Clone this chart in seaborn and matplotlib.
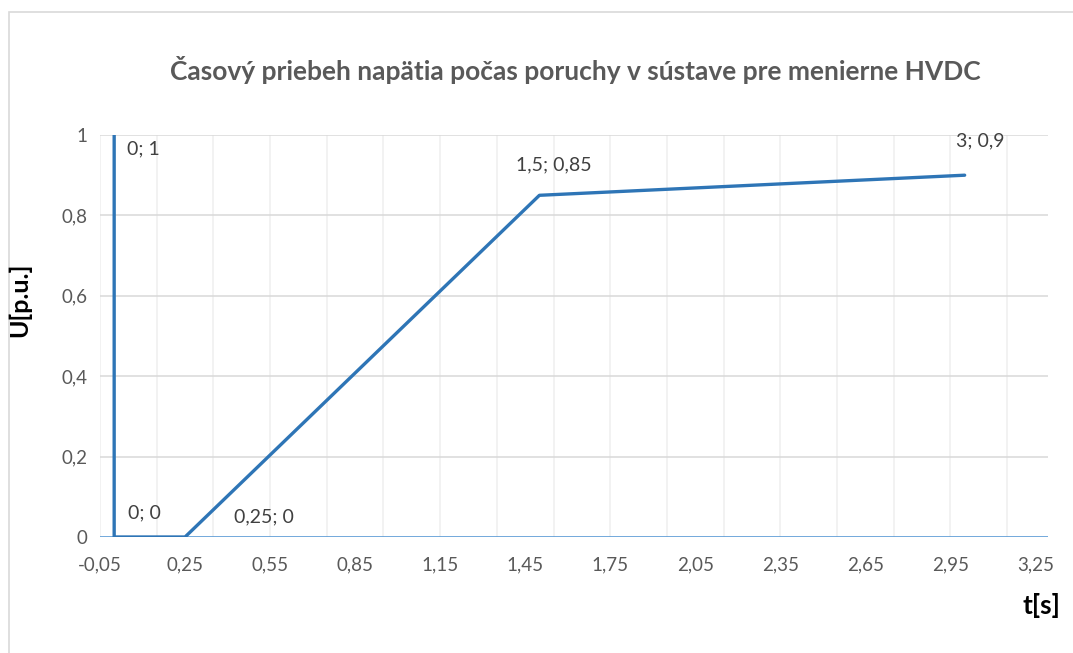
import matplotlib
matplotlib.use('Agg')
import matplotlib.pyplot as plt
import matplotlib.patches as mpatches
from matplotlib.ticker import FixedLocator, FuncFormatter
import numpy as np
import pandas as pd
import seaborn as sns

# data
t_values = [0, 0, 0.25, 1.5, 3]
u_values = [1, 0, 0, 0.85, 0.9]
x_ticks = [-0.05, 0.25, 0.55, 0.85, 1.15, 1.45, 1.75, 2.05, 2.35, 2.65, 2.95, 3.25]
y_ticks = [0, 0.2, 0.4, 0.6, 0.8, 1]
title = 'Časový priebeh napätia počas poruchy v sústave pre menierne HVDC'
x_label = 't[s]'
y_label = 'U[p.u.]'

# label offsets (pixels) for each point, as Excel placed them
label_offsets = [(13, -14), (14, 24), (49, 20), (14, 30), (16, 34)]
label_align = ['left', 'left', 'left', 'center', 'center']

sns.set_theme(style='white')
plt.rcParams['font.family'] = ['Lato', 'DejaVu Sans']

df = pd.DataFrame({'t': t_values, 'u': u_values})

fig = plt.figure(figsize=(10.73, 6.53), dpi=100)
ax = fig.add_axes([100 / 1073, 1 - 537 / 653, 948 / 1073, 402 / 653])

# chart border (Excel chart area)
fig.patches.append(
    mpatches.Rectangle(
        (9 / 1073, -0.1), 1.2, 1 - 12 / 653 + 0.1,
        transform=fig.transFigure, fill=False, edgecolor='#d9d9d9', linewidth=1.2
    )
)

# gridlines
for gx in np.arange(-0.05, 3.3, 0.2):
    ax.axvline(gx, color='#efefef', linewidth=1.1, zorder=0)
for gy in y_ticks[1:]:
    ax.axhline(gy, color='#d9d9d9', linewidth=1.1, zorder=0)
ax.axhline(0, color='#5b9bd5', linewidth=1.2, zorder=1)

sns.lineplot(
    data=df, x='t', y='u', sort=False, estimator=None,
    color='#2e75b6', linewidth=2.4, ax=ax, zorder=3
)

for (tx, uy), (dx, dy), ha in zip(zip(t_values, u_values), label_offsets, label_align):
    txt = f'{tx:g}; {uy:g}'.replace('.', ',')
    ax.annotate(
        txt, (tx, uy), xytext=(dx, dy), textcoords='offset pixels',
        ha=ha, va='center', fontsize=14, color='#404040'
    )

ax.set_xlim(-0.05, 3.294)
ax.set_ylim(0, 1)
ax.xaxis.set_major_locator(FixedLocator(x_ticks))
ax.yaxis.set_major_locator(FixedLocator(y_ticks))
fmt = FuncFormatter(lambda v, p: f'{round(v, 2):g}'.replace('.', ','))
ax.xaxis.set_major_formatter(fmt)
ax.yaxis.set_major_formatter(fmt)
ax.tick_params(axis='x', length=0, pad=14, labelsize=13.5, labelcolor='#595959')
ax.tick_params(axis='y', length=0, pad=9, labelsize=13.5, labelcolor='#595959')
for s in ax.spines.values():
    s.set_visible(False)
ax.set_xlabel('')
ax.set_ylabel('')

fig.text(575 / 1073, 1 - 70 / 653, title, ha='center', va='center',
         fontsize=19, fontweight='bold', color='#595959')
fig.text(20 / 1073, 1 - 300 / 653, y_label, ha='center', va='center',
         rotation=90, fontsize=18, fontweight='bold', color='black')
fig.text(1060 / 1073, 1 - 606 / 653, x_label, ha='right', va='center',
         fontsize=19, fontweight='bold', color='black')

fig.savefig('out.png', dpi=100)
